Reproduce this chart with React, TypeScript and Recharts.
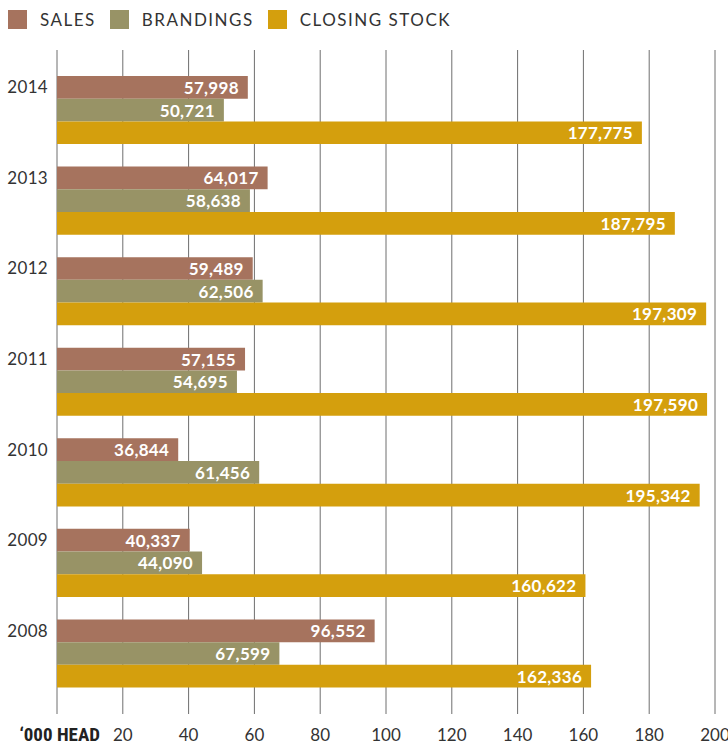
import React from "react";
import { BarChart, Bar, XAxis, YAxis, CartesianGrid, LabelList } from "recharts";

const years = ["2014", "2013", "2012", "2011", "2010", "2009", "2008"];
const sales = [57998, 64017, 59489, 57155, 36844, 40337, 96552];
const brandings = [50721, 58638, 62506, 54695, 61456, 44090, 67599];
const closingStock = [177775, 187795, 197309, 197590, 195342, 160622, 162336];
const xTicks = [0, 20000, 40000, 60000, 80000, 100000, 120000, 140000, 160000, 180000, 200000];

const seriesNames = ["SALES", "BRANDINGS", "CLOSING STOCK"];
const seriesKeys = ["sales", "brandings", "closing"];
const seriesColors = ["#A6735E", "#989366", "#D49F0D"];

const data = years.map((y, i) => ({
  year: y,
  sales: sales[i],
  brandings: brandings[i],
  closing: closingStock[i],
}));

const FONT = "Lato, 'Open Sans', sans-serif";
const fmt = (v: number) => v.toLocaleString("en-US");

const ValueLabel = (props: any) => {
  const { x, y, width, height, value } = props;
  return (
    <text
      x={x + width - 9}
      y={y + height / 2}
      textAnchor="end"
      dominantBaseline="central"
      fill="#ffffff"
      fontFamily={FONT}
      fontWeight={700}
      fontSize={17}
      letterSpacing={0.3}
    >
      {fmt(value)}
    </text>
  );
};

const YTick = (props: any) => {
  const { y, payload } = props;
  return (
    <text
      x={48}
      y={y - 23}
      dy="0.35em"
      textAnchor="end"
      fill="#333"
      fontFamily={FONT}
      fontSize={17}
      letterSpacing={0.3}
    >
      {payload.value}
    </text>
  );
};

const XTick = (props: any) => {
  const { x, payload } = props;
  if (payload.value === 0) {
    return (
      <text
        x={x + 43}
        y={741}
        textAnchor="end"
        fill="#222"
        fontFamily="'Liberation Sans Narrow', 'Roboto Condensed', Lato, sans-serif"
        fontWeight={700}
        fontSize={19}
      >
        {"‘000 HEAD"}
      </text>
    );
  }
  return (
    <text x={x} y={741} textAnchor="middle" fill="#333" fontFamily={FONT} fontSize={17}>
      {payload.value / 1000}
    </text>
  );
};

export default function App() {
  return (
    <div style={{ position: "absolute", left: 0, top: 0, width: 728, height: 744, background: "#fff", fontFamily: FONT }}>
      <div style={{ position: "absolute", left: 8, top: 10, display: "flex", alignItems: "center", height: 19 }}>
        {seriesNames.map((n, i) => (
          <div key={n} style={{ display: "flex", alignItems: "center", marginRight: 14 }}>
            <div style={{ width: 19, height: 19, background: seriesColors[i], marginRight: 13 }} />
            <span style={{ fontSize: 17, color: "#333", letterSpacing: 1.5, lineHeight: "19px" }}>{n}</span>
          </div>
        ))}
      </div>
      <BarChart
        width={728}
        height={744}
        data={data}
        layout="vertical"
        margin={{ top: 50, right: 13, left: 0, bottom: 0 }}
        barGap={0}
        barSize={22.7}
      >
        <CartesianGrid horizontal={false} vertical={true} stroke="#6e6e6e" />
        <XAxis
          type="number"
          domain={[0, 200000]}
          ticks={xTicks}
          interval={0}
          height={30}
          tickLine={false}
          axisLine={false}
          tick={<XTick />}
        />
        <YAxis
          type="category"
          dataKey="year"
          width={57}
          tickLine={false}
          axisLine={false}
          padding={{ top: 15, bottom: 15 }}
          tick={<YTick />}
          interval={0}
        />
        {seriesKeys.map((k, i) => (
          <Bar key={k} dataKey={k} fill={seriesColors[i]} isAnimationActive={false}>
            <LabelList dataKey={k} content={<ValueLabel />} />
          </Bar>
        ))}
      </BarChart>
    </div>
  );
}
